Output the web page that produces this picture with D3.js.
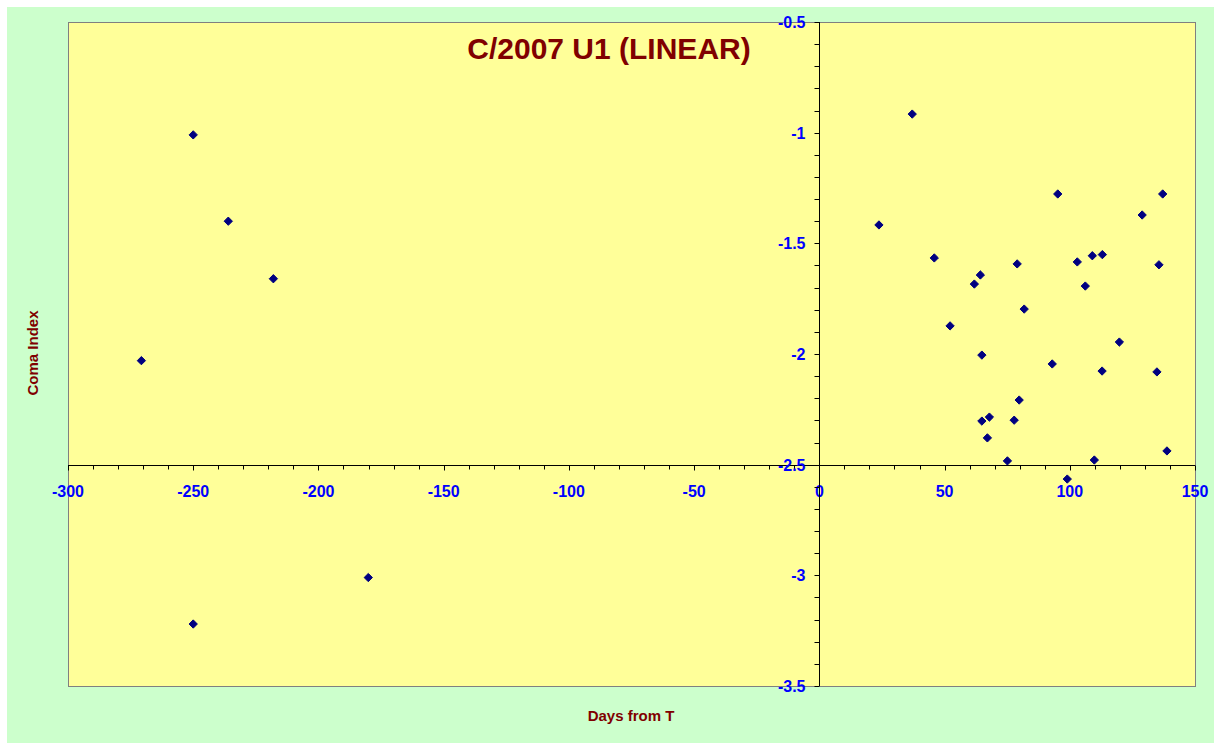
<!DOCTYPE html>
<html><head><meta charset="utf-8">
<script src="https://cdn.jsdelivr.net/npm/d3@7/dist/d3.min.js"></script>
<style>body{margin:0;background:#fff}svg{display:block}</style>
</head><body>
<svg id="chart" width="1221" height="750"></svg>
<script>
const title = "C/2007 U1 (LINEAR)";
const xLabel = "Days from T";
const yLabel = "Coma Index";
const xTicks = [-300,-250,-200,-150,-100,-50,0,50,100,150];
const yTicks = [-0.5,-1,-1.5,-2,-2.5,-3,-3.5];
const days = [-250,-236,-218,-270.7,-180.1,-250,
  23.8,37.1,45.9,52.2,61.9,64.3,64.9,64.9,67.9,67.1,75.1,77.8,79.0,79.8,81.8,93.0,95.2,99.0,103.0,106.2,109.0,109.8,113.0,112.9,119.8,128.9,134.8,135.6,137.1,138.8];
const comaIndex = [-1.01,-1.40,-1.66,-2.03,-3.01,-3.22,
  -1.417,-0.916,-1.566,-1.873,-1.684,-1.643,-2.005,-2.303,-2.285,-2.379,-2.483,-2.299,-1.593,-2.208,-1.797,-2.045,-1.277,-2.565,-1.584,-1.693,-1.556,-2.479,-1.551,-2.077,-1.946,-1.372,-2.081,-1.597,-1.277,-2.438];

const svg = d3.select("#chart");
const L=68, R=1195, T=22, B=686;
const x = d3.scaleLinear().domain([-300,150]).range([L,R]);
const y = d3.scaleLinear().domain([-0.5,-3.5]).range([T,B]);
const FONT = "Liberation Sans, Arial, sans-serif";

svg.append("rect").attr("x",7).attr("y",7).attr("width",1207).attr("height",736).attr("fill","#CCFFCC");
svg.append("rect").attr("x",L).attr("y",T).attr("width",R-L).attr("height",B-T)
  .attr("fill","#FFFF99").attr("stroke","#808080").attr("stroke-width",1).attr("shape-rendering","crispEdges");

// x axis at y=-2.5
const xMinor = d3.range(-300,151,10);
const gx = svg.append("g").attr("transform",`translate(0,${Math.round(y(-2.5))+0.5})`);
gx.append("line").attr("x1",L).attr("x2",R).attr("stroke","#000");
gx.selectAll("line.t").data(xMinor).join("line").attr("class","t")
  .attr("x1",d=>Math.round(x(d))+0.5).attr("x2",d=>Math.round(x(d))+0.5)
  .attr("y1",0).attr("y2",d=>d%50===0?5:4).attr("stroke","#000");
gx.selectAll("text").data(xTicks).join("text")
  .attr("x",d=>x(d)).attr("y",31).attr("text-anchor","middle")
  .attr("font-family",FONT).attr("font-weight","bold")
  .attr("font-size",16).attr("fill","#0000FF").text(d=>d);

// y axis at x=0
const yMinor = d3.range(-5,-35.5,-1).map(v=>v/10);
const gy = svg.append("g").attr("transform",`translate(${Math.round(x(0))+0.5},0)`);
gy.append("line").attr("y1",T).attr("y2",B).attr("stroke","#000");
gy.selectAll("line.t").data(yMinor).join("line").attr("class","t")
  .attr("y1",d=>Math.round(y(d))+0.5).attr("y2",d=>Math.round(y(d))+0.5)
  .attr("x1",-5).attr("x2",0).attr("stroke","#000");
gy.selectAll("text").data(yTicks).join("text")
  .attr("x",-14).attr("y",d=>y(d)+6).attr("text-anchor","end")
  .attr("font-family",FONT).attr("font-weight","bold")
  .attr("font-size",16).attr("fill","#0000FF").text(d=>d);

// points
const diamond = d3.symbol().type(d3.symbolDiamond2).size(44);
svg.selectAll("path.pt").data(days.map((d,i)=>[d,comaIndex[i]])).join("path").attr("class","pt")
  .attr("transform",d=>`translate(${x(d[0])},${y(d[1])})`)
  .attr("d",diamond).attr("fill","#000080").attr("stroke","#000080").attr("stroke-width",1);

// titles
svg.append("text").attr("x",609).attr("y",59).attr("text-anchor","middle")
  .attr("font-family",FONT).attr("font-weight","bold")
  .attr("font-size",30).attr("fill","#800000").text(title);
svg.append("text").attr("x",631).attr("y",721).attr("text-anchor","middle")
  .attr("font-family",FONT).attr("font-weight","bold")
  .attr("font-size",15).attr("fill","#800000").text(xLabel);
svg.append("text").attr("transform","translate(38,353) rotate(-90)").attr("text-anchor","middle")
  .attr("font-family",FONT).attr("font-weight","bold")
  .attr("font-size",15).attr("fill","#800000").text(yLabel);
</script>
</body></html>
